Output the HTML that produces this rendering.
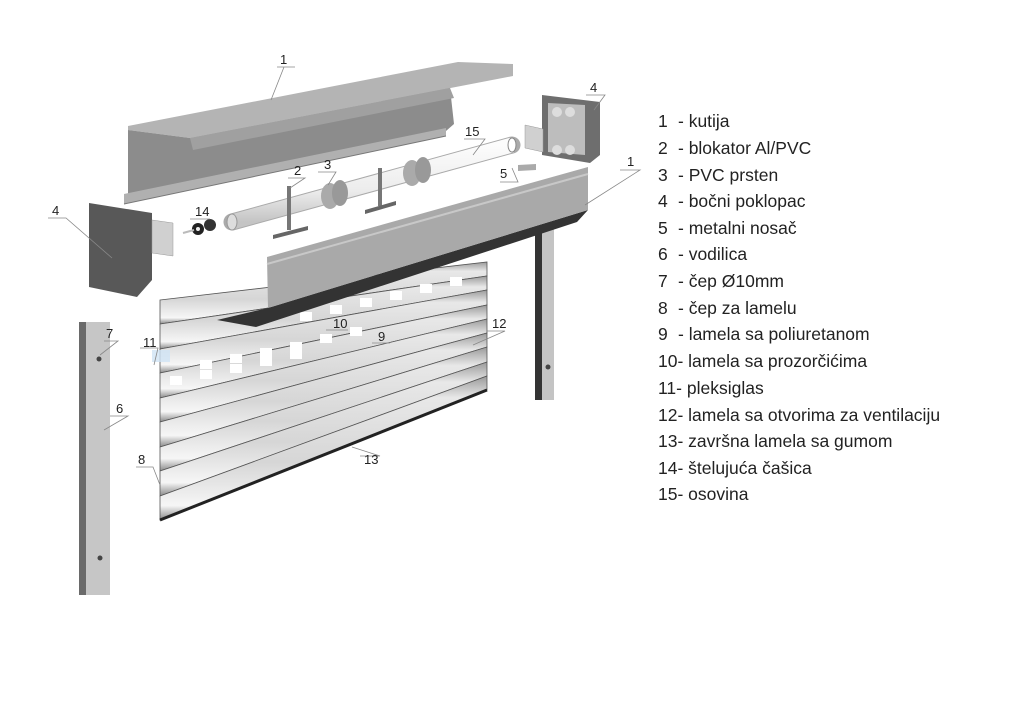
<!DOCTYPE html>
<html><head><meta charset="utf-8"><style>
html,body{margin:0;padding:0;background:#fff;}
svg{display:block;}
text{font-family:"Liberation Sans",sans-serif;fill:#222;}
</style></head><body>
<svg width="1024" height="706" viewBox="0 0 1024 706" xmlns="http://www.w3.org/2000/svg">
<defs>
<linearGradient id="slat" x1="0" y1="0" x2="0" y2="1">
<stop offset="0" stop-color="#9a9a9a"/><stop offset="0.15" stop-color="#e8e8e8"/><stop offset="0.6" stop-color="#d6d6d6"/><stop offset="0.9" stop-color="#f6f6f6"/><stop offset="1" stop-color="#8a8a8a"/>
</linearGradient>
<linearGradient id="tube" x1="0" y1="0" x2="0" y2="1">
<stop offset="0" stop-color="#fcfcfc"/><stop offset="0.6" stop-color="#ececec"/><stop offset="1" stop-color="#c4c4c4"/>
</linearGradient>
</defs>

<!-- top box 1 -->
<polygon points="128,126 458,62 513,64 513,76 190,138 128,130" fill="#b4b4b4"/>
<polygon points="128,130 190,138 450,88 454,124 446,131 185,188 128,196" fill="#8c8c8c"/>
<polygon points="190,138 450,88 454,98 193,150" fill="#a0a0a0"/>
<polygon points="124,194 446,128 446,136 124,204" fill="#b0b0b0"/>
<line x1="124" y1="204" x2="446" y2="136" stroke="#777" stroke-width="1"/>

<!-- right side cover 4 -->
<polygon points="542,95 600,102 600,155 590,163 542,155" fill="#6e6e6e"/>
<polygon points="548,103 585,105 585,155 548,152" fill="#bdbdbd"/>
<circle cx="557" cy="112" r="5" fill="#ddd"/><circle cx="570" cy="112" r="5" fill="#ddd"/>
<circle cx="557" cy="150" r="5" fill="#ddd"/><circle cx="570" cy="150" r="5" fill="#ddd"/>
<polygon points="525,125 543,129 543,152 525,148" fill="#d0d0d0" stroke="#999" stroke-width="0.5"/>

<!-- tube 15 -->
<line x1="232" y1="222" x2="512" y2="145" stroke="#aaa" stroke-width="17" stroke-linecap="round"/>
<line x1="232" y1="222" x2="512" y2="145" stroke="url(#tube)" stroke-width="15" stroke-linecap="butt"/>
<ellipse cx="232" cy="222" rx="5" ry="8" fill="#ddd" stroke="#999"/>
<ellipse cx="512" cy="145" rx="4" ry="7" fill="#fff" stroke="#888"/>
<!-- rings 3 -->
<ellipse cx="330" cy="196" rx="9" ry="13" fill="#aaa"/><ellipse cx="340" cy="193" rx="8" ry="13" fill="#999"/>
<ellipse cx="412" cy="173" rx="9" ry="13" fill="#aaa"/><ellipse cx="423" cy="170" rx="8" ry="13" fill="#999"/>
<!-- T brackets 2 -->
<rect x="287" y="186" width="4" height="44" fill="#777"/><polygon points="273,235 308,226 308,230 273,239" fill="#666"/>
<rect x="378" y="168" width="4" height="38" fill="#777"/><polygon points="365,210 396,201 396,205 365,214" fill="#666"/>
<!-- 5 -->
<polygon points="518,165 536,164 536,170 518,171" fill="#aaa"/>
<!-- 14 -->
<circle cx="198" cy="229" r="6" fill="#222"/><circle cx="210" cy="225" r="6" fill="#333"/><circle cx="198" cy="229" r="2" fill="#eee"/>
<line x1="183" y1="233" x2="194" y2="230" stroke="#bbb" stroke-width="2"/>

<!-- left side cover 4 -->
<polygon points="89,203 152,213 152,280 137,297 89,287" fill="#585858"/>
<polygon points="152,220 173,223 173,256 152,253" fill="#d0d0d0" stroke="#999" stroke-width="0.5"/>

<!-- lamellas -->
<g stroke="#555" stroke-width="0.8">
<polygon points="160,300 487,262 487,276 160,324" fill="url(#slat)"/>
<polygon points="160,324 487,276 487,290 160,349" fill="url(#slat)"/>
<polygon points="160,349 487,290 487,305 160,373" fill="url(#slat)"/>
<polygon points="160,373 487,305 487,319 160,398" fill="url(#slat)"/>
<polygon points="160,398 487,319 487,333 160,422" fill="url(#slat)"/>
<polygon points="160,422 487,333 487,347 160,447" fill="url(#slat)"/>
<polygon points="160,447 487,347 487,362 160,471" fill="url(#slat)"/>
<polygon points="160,471 487,362 487,376 160,496" fill="url(#slat)"/>
<polygon points="160,496 487,376 487,390 160,520" fill="url(#slat)"/>
</g>
<line x1="160" y1="520" x2="487" y2="390" stroke="#222" stroke-width="3"/>
<!-- windows -->
<g fill="#fff">
<rect x="200" y="360" width="12" height="9"/><rect x="230" y="354" width="12" height="9"/><rect x="260" y="348" width="12" height="9"/><rect x="290" y="342" width="12" height="9"/><rect x="320" y="334" width="12" height="9"/><rect x="350" y="327" width="12" height="9"/>
<rect x="170" y="376" width="12" height="9"/><rect x="200" y="370" width="12" height="9"/><rect x="230" y="364" width="12" height="9"/><rect x="260" y="357" width="12" height="9"/><rect x="290" y="350" width="12" height="9"/>
<rect x="300" y="312" width="12" height="9"/><rect x="330" y="305" width="12" height="9"/><rect x="360" y="298" width="12" height="9"/><rect x="390" y="291" width="12" height="9"/><rect x="420" y="284" width="12" height="9"/><rect x="450" y="277" width="12" height="9"/>
</g>
<rect x="152" y="350" width="18" height="12" fill="#cfe3f5" opacity="0.8"/>

<!-- right rail -->
<rect x="535" y="228" width="7" height="172" fill="#333"/>
<rect x="542" y="228" width="12" height="172" fill="#c4c4c4"/>
<circle cx="548" cy="367" r="2.5" fill="#444"/>

<!-- front box 1 -->
<polygon points="268,308 588,210 577,222 256,327 217,320" fill="#333"/>
<polygon points="267,257 588,167 588,210 268,308" fill="#a9a9a9"/>
<line x1="267" y1="264" x2="588" y2="174" stroke="#c8c8c8" stroke-width="2"/>

<!-- left rail -->
<rect x="79" y="322" width="7" height="273" fill="#6a6a6a"/>
<rect x="86" y="322" width="24" height="273" fill="#c6c6c6"/>
<circle cx="99" cy="359" r="2.5" fill="#444"/><circle cx="100" cy="558" r="2.5" fill="#444"/>

<!-- leaders -->
<g stroke="#888" stroke-width="0.8" fill="none">
<polyline points="277,67 295,67"/><line x1="284" y1="67" x2="271" y2="100"/>
<polyline points="586,95 605,95 594,110"/>
<polyline points="620,170 640,170 585,205"/>
<polyline points="464,139 485,139 473,155"/>
<polyline points="288,178 305,178 290,188"/>
<polyline points="318,172 336,172 328,185"/>
<polyline points="500,182 518,182 512,168"/>
<polyline points="190,219 210,219"/>
<polyline points="48,218 66,218 112,258"/>
<polyline points="104,341 118,341 100,355"/>
<polyline points="140,348 158,348 154,365"/>
<polyline points="110,416 128,416 104,430"/>
<polyline points="136,467 153,467 160,485"/>
<polyline points="326,330 348,330"/>
<polyline points="372,343 390,343"/>
<polyline points="487,331 505,331 473,345"/>
<polyline points="360,456 380,456 352,447"/>
</g>
<g font-size="13">
<text x="280" y="64">1</text><text x="590" y="92">4</text><text x="627" y="166">1</text>
<text x="465" y="136">15</text><text x="294" y="175">2</text><text x="324" y="169">3</text>
<text x="500" y="178">5</text><text x="195" y="216">14</text><text x="52" y="215">4</text>
<text x="106" y="338">7</text><text x="143" y="347">11</text><text x="116" y="413">6</text>
<text x="138" y="464">8</text><text x="333" y="328">10</text><text x="378" y="341">9</text>
<text x="492" y="328">12</text><text x="364" y="464">13</text>
</g>

<!-- legend -->
<g font-size="17.5">
<text x="658" y="127">1</text><text x="678" y="127">- kutija</text>
<text x="658" y="154">2</text><text x="678" y="154">- blokator Al/PVC</text>
<text x="658" y="181">3</text><text x="678" y="181">- PVC prsten</text>
<text x="658" y="207">4</text><text x="678" y="207">- bočni poklopac</text>
<text x="658" y="234">5</text><text x="678" y="234">- metalni nosač</text>
<text x="658" y="260">6</text><text x="678" y="260">- vodilica</text>
<text x="658" y="287">7</text><text x="678" y="287">- čep Ø10mm</text>
<text x="658" y="314">8</text><text x="678" y="314">- čep za lamelu</text>
<text x="658" y="340">9</text><text x="678" y="340">- lamela sa poliuretanom</text>
<text x="658" y="367">10- lamela sa prozorčićima</text>
<text x="658" y="394">11- pleksiglas</text>
<text x="658" y="421">12- lamela sa otvorima za ventilaciju</text>
<text x="658" y="447">13- završna lamela sa gumom</text>
<text x="658" y="474">14- štelujuća čašica</text>
<text x="658" y="500">15- osovina</text>
</g>
</svg>
</body></html>
